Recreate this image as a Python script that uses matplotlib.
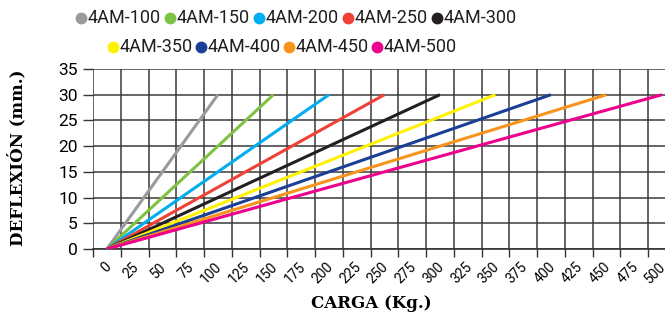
import numpy as np
import matplotlib
matplotlib.use('Agg')
import matplotlib.pyplot as plt
import matplotlib.transforms as mtransforms

plt.rcParams['font.family'] = ['Roboto', 'DejaVu Sans']

# data
models = ['4AM-100', '4AM-150', '4AM-200', '4AM-250', '4AM-300',
          '4AM-350', '4AM-400', '4AM-450', '4AM-500']
carga_max = [100, 150, 200, 250, 300, 350, 400, 450, 500]
deflexion_max = [30, 30, 30, 30, 30, 30, 30, 30, 30]
colores = ['#9a9a9c', '#7dc242', '#00aeef', '#ef4136', '#231f20',
           '#fff200', '#1b3f94', '#f7941d', '#ec008c']
x_labels = [str(v) for v in range(0, 501, 25)]
y_ticks = [0, 5, 10, 15, 20, 25, 30, 35]

W, H = 665, 318
fig = plt.figure(figsize=(W/100, H/100), dpi=100)
ax = fig.add_axes([93/W, 1-249/H, 1-93/W, 180/H])

for cap, d, c in zip(carga_max, deflexion_max, colores):
    ax.plot([0, cap], [0, d], color=c, lw=2.2, solid_capstyle='butt', zorder=3)

centers = np.arange(len(x_labels)) * 25
bounds = np.append(centers - 12.5, centers[-1] + 12.5)

ax.set_xticks(bounds)
ax.set_xticklabels([])
ax.set_xticks(centers, minor=True)
ax.set_xticklabels(x_labels, minor=True, rotation=45, ha='right', va='center',
                   rotation_mode='anchor', fontsize=10)
ax.tick_params(axis='x', which='major', length=6, width=1, color='#333333', direction='out')
ax.tick_params(axis='x', which='minor', length=0, pad=11.5)
off = mtransforms.ScaledTranslation(2/100, 0, fig.dpi_scale_trans)
for lab in ax.xaxis.get_minorticklabels():
    lab.set_transform(lab.get_transform() + off)

ax.set_yticks(y_ticks)
ax.tick_params(axis='y', length=7, width=1, color='#333333', pad=4, labelsize=12.5)

# limits after ticks (set_xticks would widen the view)
ax.set_xlim(-12.5, -12.5 + (W - 93) / 1.11)
ax.set_ylim(0, 35)

ax.grid(True, which='major', color='#3a3a3a', lw=1.1)
for s in ['top', 'right', 'left']:
    ax.spines[s].set_visible(False)
ax.spines['bottom'].set_color('#333333')
ax.spines['bottom'].set_linewidth(1.2)

fig.text(371/W, 1-303/H, 'CARGA (Kg.)', ha='center', va='center',
         fontsize=12, fontweight='bold', family='DejaVu Serif')
fig.text(17/W, 1-158/H, 'DEFLEXIÓN (mm.)', ha='center', va='center',
         rotation=90, fontsize=12, fontweight='bold', family='DejaVu Serif')

# legend in two rows
rows = [(0, 5, 81, 89, 18), (5, 9, 113, 88, 47)]
for i0, i1, x0, step, y in rows:
    for k, i in enumerate(range(i0, i1)):
        mx = x0 + k * step
        fig.add_artist(plt.Line2D([mx/W], [1-y/H], marker='o', ls='none',
                                  color=colores[i], markersize=7.5,
                                  transform=fig.transFigure))
        fig.text((mx + 7)/W, 1-y/H, models[i], ha='left', va='center',
                 fontsize=13, color='#231f20')

fig.savefig('out.png', dpi=100)
